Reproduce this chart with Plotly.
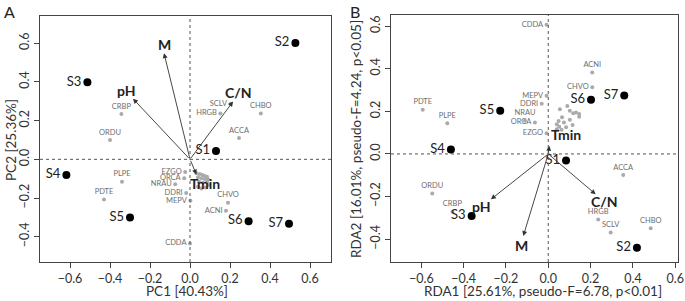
import plotly.graph_objects as go

# ---------------- Panel A (PCA) ----------------
a_sites = ["S1", "S2", "S3", "S4", "S5", "S6", "S7"]
a_site_x = [0.13, 0.527, -0.513, -0.618, -0.30, 0.293, 0.495]
a_site_y = [0.043, 0.60, 0.398, -0.081, -0.30, -0.319, -0.333]

a_species = ["CRBP", "ORDU", "SCLV", "HRGB", "CHBO", "ACCA", "PLPE", "PDTE",
             "EZGO", "ORCA", "NRAU", "DDRI", "MEPV", "CHVO", "ACNI", "CDDA"]
a_sp_x = [-0.343, -0.40, 0.203, 0.152, 0.354, 0.245, -0.34, -0.43,
          -0.024, -0.029, -0.074, -0.019, 0.002, 0.19, 0.18, 0.0]
a_sp_y = [0.234, 0.10, 0.287, 0.237, 0.237, 0.11, -0.116, -0.207,
          -0.066, -0.097, -0.128, -0.174, -0.214, -0.224, -0.265, -0.434]

a_cluster_x = [0.032, 0.049, 0.062, 0.074, 0.085, 0.04, 0.057, 0.074, 0.09,
               0.045, 0.065, 0.085, 0.04, 0.057, 0.078, 0.095]
a_cluster_y = [-0.072, -0.076, -0.081, -0.086, -0.09, -0.093, -0.097, -0.102, -0.103,
               -0.116, -0.121, -0.117, -0.142, -0.15, -0.145, -0.133]

a_vars = ["M", "pH", "C/N", "Tmin"]
a_var_x = [-0.13, -0.285, 0.215, 0.032]
a_var_y = [0.548, 0.313, 0.298, -0.078]

# ---------------- Panel B (RDA) ----------------
b_sites = ["S1", "S2", "S3", "S4", "S5", "S6", "S7"]
b_site_x = [0.084, 0.419, -0.362, -0.46, -0.227, 0.202, 0.359]
b_site_y = [-0.031, -0.44, -0.291, 0.021, 0.203, 0.254, 0.274]

b_species = ["CDDA", "ACNI", "CHVO", "MEPV", "DDRI", "NRAU", "ORCA", "EZGO",
             "PDTE", "PLPE", "ACCA", "ORDU", "CRBP", "HRGB", "SCLV", "CHBO"]
b_sp_x = [-0.008, 0.208, 0.208, -0.008, -0.031, -0.11, -0.063, -0.008,
          -0.593, -0.477, 0.354, -0.548, -0.453, 0.236, 0.295, 0.484]
b_sp_y = [0.606, 0.382, 0.313, 0.273, 0.235, 0.156, 0.147, 0.097,
          0.207, 0.144, -0.099, -0.185, -0.271, -0.307, -0.368, -0.349]

b_cluster_x = [0.055, 0.09, 0.102, 0.118, 0.131, 0.146, 0.146, 0.065, 0.049,
               0.074, 0.102, 0.115, 0.04, 0.052, 0.084, 0.063, 0.04]
b_cluster_y = [0.21, 0.225, 0.203, 0.191, 0.194, 0.188, 0.175, 0.172, 0.155,
               0.147, 0.16, 0.136, 0.139, 0.128, 0.125, 0.113, 0.116]

b_vars = ["pH", "M", "C/N", "Tmin"]
b_var_x = [-0.271, -0.118, 0.224, 0.005]
b_var_y = [-0.213, -0.385, -0.189, 0.038]

x_ticks = [-0.6, -0.4, -0.2, 0.0, 0.2, 0.4, 0.6]
y_ticks = [-0.4, -0.2, 0.0, 0.2, 0.4, 0.6]

# ---------------- styles ----------------
FONT = "Lato"
W, H = 685, 301
a_sp_pos = ["top center", "top center", "middle left", "middle left", "top center", "top center",
            "top center", "top center", "middle left", "middle left", "middle left", "middle left",
            "middle left", "top center", "middle left", "middle left"]
b_sp_pos = ["middle left", "top center", "middle left", "middle left", "middle left", "top center",
            "middle left", "middle left", "top center", "top center", "top center", "top center",
            "top center", "top center", "top center", "top center"]
a_var_lab = [(0.0, 0.045), (-0.035, 0.04), (0.025, 0.045), (0.045, -0.045)]
b_var_lab = [(-0.045, -0.035), (-0.008, -0.043), (0.042, -0.034), (0.08, 0.055)]

fig = go.Figure()


def add_panel(xa, ya, sx, sy, sl, spx, spy, spl, sppos, cx, cy, vx, vy, vl, vlab):
    fig.add_trace(go.Scatter(x=cx, y=cy, mode="markers", xaxis=xa, yaxis=ya,
                             marker=dict(size=4, color="#aaaaaa"), showlegend=False,
                             hoverinfo="skip"))
    fig.add_trace(go.Scatter(x=spx, y=spy, mode="markers+text", text=spl, textposition=sppos,
                             xaxis=xa, yaxis=ya, marker=dict(size=4, color="#aaaaaa"),
                             textfont=dict(family=FONT, size=7.5, color="#6e6e6e"),
                             showlegend=False))
    fig.add_trace(go.Scatter(x=sx, y=sy, mode="markers+text", text=sl, textposition="middle left",
                             xaxis=xa, yaxis=ya, marker=dict(size=8, color="black"),
                             textfont=dict(family=FONT, size=13, color="#222222"),
                             showlegend=False))
    for i in range(len(vl)):
        fig.add_annotation(x=vx[i], y=vy[i], ax=0, ay=0, xref=xa, yref=ya, axref=xa, ayref=ya,
                           showarrow=True, arrowhead=2, arrowsize=1.1, arrowwidth=0.9,
                           arrowcolor="#333333", text="")
        fig.add_annotation(x=vx[i] + vlab[i][0], y=vy[i] + vlab[i][1], xref=xa, yref=ya,
                           showarrow=False, text="<b>%s</b>" % vl[i],
                           font=dict(family=FONT, size=14, color="#222222"))


add_panel("x", "y", a_site_x, a_site_y, a_sites, a_sp_x, a_sp_y, a_species, a_sp_pos,
          a_cluster_x, a_cluster_y, a_var_x, a_var_y, a_vars, a_var_lab)
add_panel("x2", "y2", b_site_x, b_site_y, b_sites, b_sp_x, b_sp_y, b_species, b_sp_pos,
          b_cluster_x, b_cluster_y, b_var_x, b_var_y, b_vars, b_var_lab)

axis_common = dict(showgrid=False, zeroline=False, showline=True, mirror=True,
                   linecolor="#444444", linewidth=1, ticks="outside", ticklen=5,
                   tickcolor="#444444", automargin=False,
                   tickfont=dict(family=FONT, size=12.5, color="#333333"))
xstyle = dict(ticklabelstandoff=0, **axis_common)
ystyle = dict(ticklabelstandoff=0, **axis_common)

fig.update_layout(
    width=W, height=H, margin=dict(l=0, r=0, t=0, b=0, pad=0),
    plot_bgcolor="white", paper_bgcolor="white",
    xaxis=dict(domain=[40 / W, 331 / W], range=[-0.75, 0.705], tickvals=x_ticks,
               tickformat=".1f", anchor="y", **xstyle),
    yaxis=dict(domain=[1 - 262 / H, 1 - 16 / H], range=[-0.53, 0.74], tickvals=y_ticks,
               tickformat=".1f", tickangle=-90, anchor="x", **ystyle),
    xaxis2=dict(domain=[391 / W, 678 / W], range=[-0.743, 0.613], tickvals=x_ticks,
                tickformat=".1f", anchor="y2", **xstyle),
    yaxis2=dict(domain=[1 - 262 / H, 1 - 15 / H], range=[-0.507, 0.652], tickvals=y_ticks,
                tickformat=".1f", tickangle=-90, anchor="x2", **ystyle),
    shapes=[
        dict(type="line", xref="x", yref="paper", x0=0, x1=0, y0=1 - 262 / H, y1=1 - 16 / H,
             line=dict(color="#555555", width=1, dash="dot")),
        dict(type="line", xref="paper", yref="y", x0=40 / W, x1=331 / W, y0=0, y1=0,
             line=dict(color="#555555", width=1, dash="dot")),
        dict(type="line", xref="x2", yref="paper", x0=0, x1=0, y0=1 - 262 / H, y1=1 - 15 / H,
             line=dict(color="#555555", width=1, dash="dot")),
        dict(type="line", xref="paper", yref="y2", x0=391 / W, x1=678 / W, y0=0, y1=0,
             line=dict(color="#555555", width=1, dash="dot")),
    ],
)

titles = [
    dict(x=187 / W, y=1 - 291 / H, text="PC1 [40.43%]", textangle=0),
    dict(x=11 / W, y=1 - 140 / H, text="PC2 [25.36%]", textangle=-90),
    dict(x=543 / W, y=1 - 291 / H, text="RDA1 [25.61%, pseudo-F=6.78, p<0.01]", textangle=0),
    dict(x=356 / W, y=1 - 139 / H, text="RDA2 [16.01%, pseudo-F=4.24, p<0.05]", textangle=-90),
]
for t in titles:
    fig.add_annotation(x=t["x"], y=t["y"], xref="paper", yref="paper", text=t["text"],
                       textangle=t["textangle"], showarrow=False, xanchor="center", yanchor="middle",
                       font=dict(family=FONT, size=13.5, color="#333333"))

for lab, px in [("A", 9), ("B", 355)]:
    fig.add_annotation(x=px / W, y=1 - 11 / H, xref="paper", yref="paper", text=lab,
                       showarrow=False, xanchor="center", yanchor="middle",
                       font=dict(family=FONT, size=16, color="#222222"))

fig.write_html("out.html", config={"displayModeBar": False},
               post_script="document.body.style.margin='0';document.body.style.padding='0';")
